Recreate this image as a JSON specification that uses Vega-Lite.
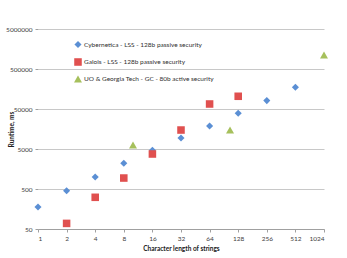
{
  "$schema": "https://vega.github.io/schema/vega-lite/v6.json",
  "width": 286,
  "height": 200,
  "autosize": {"type": "none"},
  "padding": {"left": 38, "top": 29, "right": 23, "bottom": 29},
  "background": "white",
  "config": {
    "font": "Lato",
    "view": {"stroke": null},
    "axis": {"labelFont": "Lato", "titleFont": "Lato", "labelFontSize": 6.5, "labelColor": "#404040", "titleColor": "#202020", "titleFontSize": 6.5, "titleFontWeight": "bold"}
  },
  "data": {
    "values": [
      {"series": "Cybernetica - LSS - 128b passive security", "len": 1, "ms": 177},
      {"series": "Cybernetica - LSS - 128b passive security", "len": 2, "ms": 453},
      {"series": "Cybernetica - LSS - 128b passive security", "len": 4, "ms": 1000},
      {"series": "Cybernetica - LSS - 128b passive security", "len": 8, "ms": 2200},
      {"series": "Cybernetica - LSS - 128b passive security", "len": 16, "ms": 4660},
      {"series": "Cybernetica - LSS - 128b passive security", "len": 32, "ms": 9400},
      {"series": "Cybernetica - LSS - 128b passive security", "len": 64, "ms": 18800},
      {"series": "Cybernetica - LSS - 128b passive security", "len": 128, "ms": 39000},
      {"series": "Cybernetica - LSS - 128b passive security", "len": 256, "ms": 81000},
      {"series": "Cybernetica - LSS - 128b passive security", "len": 512, "ms": 174000},
      {"series": "Galois - LSS - 128b passive security", "len": 2, "ms": 69},
      {"series": "Galois - LSS - 128b passive security", "len": 4, "ms": 310},
      {"series": "Galois - LSS - 128b passive security", "len": 8, "ms": 940},
      {"series": "Galois - LSS - 128b passive security", "len": 16, "ms": 3750},
      {"series": "Galois - LSS - 128b passive security", "len": 32, "ms": 14900},
      {"series": "Galois - LSS - 128b passive security", "len": 64, "ms": 66700},
      {"series": "Galois - LSS - 128b passive security", "len": 128, "ms": 104000},
      {"series": "UO & Georgia Tech - GC - 80b active security", "len": 10, "ms": 6300},
      {"series": "UO & Georgia Tech - GC - 80b active security", "len": 105, "ms": 14900},
      {"series": "UO & Georgia Tech - GC - 80b active security", "len": 1024, "ms": 1120000}
    ]
  },
  "mark": {"type": "point", "filled": true, "opacity": 1},
  "encoding": {
    "x": {
      "field": "len", "type": "quantitative",
      "scale": {"type": "log", "base": 2, "domain": [1, 1024], "nice": false},
      "axis": {"values": [1, 2, 4, 8, 16, 32, 64, 128, 256, 512, 1024], "format": "d", "grid": false, "domainColor": "#a0a0a0", "tickColor": "#a0a0a0", "tickSize": 3, "labelPadding": 3, "title": "Character length of strings", "titlePadding": 4}
    },
    "y": {
      "field": "ms", "type": "quantitative",
      "scale": {"type": "log", "base": 10, "domain": [50, 5000000], "nice": false},
      "axis": {"values": [50, 500, 5000, 50000, 500000, 5000000], "format": "d", "grid": true, "gridColor": "#c8c8c8", "domain": false, "tickColor": "#a0a0a0", "tickSize": 3, "labelPadding": 3, "title": "Runtime, ms", "titleX": -24, "titleY": 100, "titleAlign": "center", "titleBaseline": "bottom", "titleAngle": 270}
    },
    "color": {
      "field": "series", "type": "nominal",
      "scale": {"domain": ["Cybernetica - LSS - 128b passive security", "Galois - LSS - 128b passive security", "UO & Georgia Tech - GC - 80b active security"], "range": ["#5b8fd4", "#e0504f", "#a6c05c"]},
      "legend": {"orient": "none", "legendX": 35, "legendY": 11, "title": null, "labelFontSize": 6.5, "labelColor": "#303030", "labelFont": "Lato", "symbolSize": 22, "rowPadding": 8, "labelOffset": 1}
    },
    "shape": {
      "field": "series", "type": "nominal",
      "scale": {"domain": ["Cybernetica - LSS - 128b passive security", "Galois - LSS - 128b passive security", "UO & Georgia Tech - GC - 80b active security"], "range": ["diamond", "square", "triangle-up"]}
    },
    "size": {
      "field": "series", "type": "nominal",
      "scale": {"domain": ["Cybernetica - LSS - 128b passive security", "Galois - LSS - 128b passive security", "UO & Georgia Tech - GC - 80b active security"], "range": [50, 64, 55]},
      "legend": null
    }
  }
}
